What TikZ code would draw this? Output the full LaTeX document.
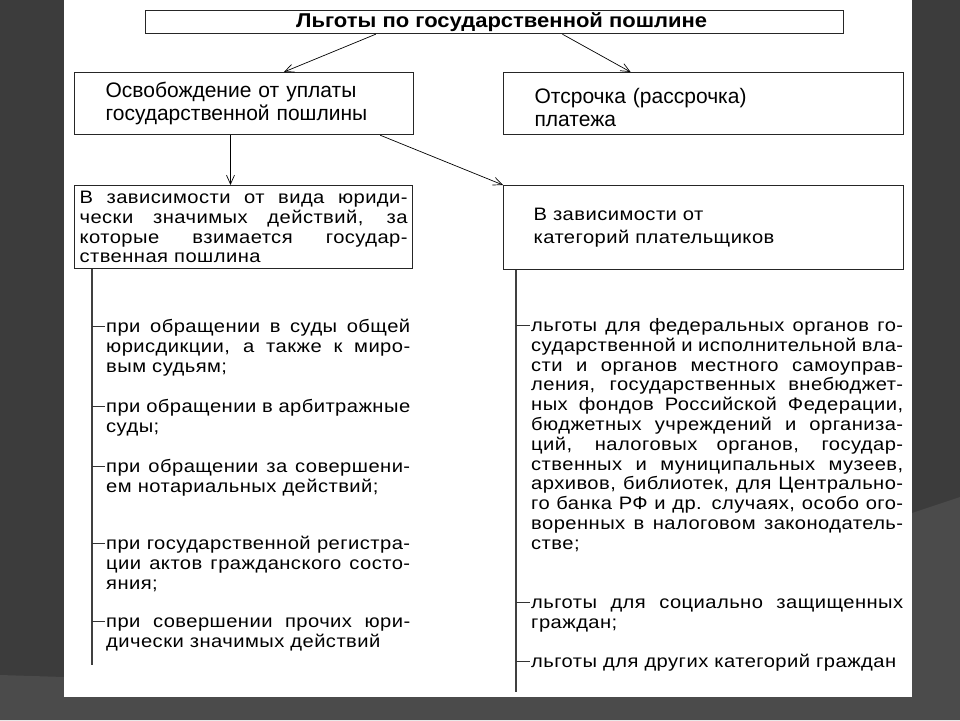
\documentclass[tikz,border=0pt]{standalone}
\usepackage{fontspec}
\setmainfont{Liberation Sans}
\newfontfamily\listfont[FakeStretch=1.12,LetterSpace=2.5]{Liberation Sans}
\newfontfamily\headfont[FakeStretch=1.1]{Liberation Sans}
\usetikzlibrary{arrows.meta,positioning,calc}
\definecolor{slidebg}{HTML}{3C3C3C}
\definecolor{slideband}{HTML}{4B4B4B}
\tikzset{
  box/.style={draw=black!85, line width=1.2pt, rectangle, anchor=north west, inner sep=0pt},
  headbox/.style={box, font=\headfont\bfseries\fontsize{20}{22}\selectfont},
  mainbox/.style={box, align=left, inner xsep=31pt, font=\fontsize{21}{23}\selectfont},
  subbox/.style={box, font=\listfont\fontsize{18}{19.7}\selectfont},
  item/.style={anchor=base west, inner sep=0pt, align=justify, font=\listfont\fontsize{18}{19.8}\selectfont},
  arr/.style={-{Straight Barb[length=9pt,width=8pt]}, line width=0.7pt},
  trunk/.style={line width=1.6pt, black!75},
  tick/.style={line width=1pt, black!80}
}

\begin{document}
\begin{tikzpicture}[x=1pt,y=-1pt]
\useasboundingbox (0,0) rectangle (960,720);
% slide background
\fill[slidebg] (0,0) rectangle (960,720);
\fill[slideband] (0,675) -- (64,677) -- (912,697) -- (912,513) -- (960,497) -- (960,720) -- (0,720) -- cycle;
\fill[white] (64,0) rectangle (912,697);

\node[headbox, minimum width=698pt, minimum height=23pt] (title) at (145,10) {\hspace{14pt}Льготы по государственной пошлине};
\node[mainbox, text width=277pt, minimum height=62pt] (free) at (74,72) {Освобождение от уплаты\\государственной пошлины};
\node[mainbox, text width=338pt, minimum height=62pt] (delay) at (503,72) {\rule{0pt}{24pt}Отсрочка (рассрочка)\\платежа};
\node[subbox, text width=328pt, inner xsep=5pt, minimum height=83pt, align=justify] (byact) at (74,185) {В зависимости от вида юриди-\linebreak чески значимых действий, за\linebreak которые взимается государ-\linebreak ственная пошлина};
\node[subbox, text width=340pt, inner xsep=30pt, minimum height=84pt, align=left, font=\listfont\fontsize{18}{23}\selectfont] (bypayer) at (503,185) {В зависимости от\\категорий плательщиков};

\draw[arr] ($(title.south west)!0.33!(title.south east)$) -- ($(free.north west)!0.617!(free.north east)$);
\draw[arr] ($(title.south west)!0.597!(title.south east)$) -- ($(delay.north west)!0.318!(delay.north east)$);
\coordinate (down) at ($(free.south west)!0.46!(free.south east)$);
\draw[arr] (down) -- (down |- byact.north);
\draw[arr] ($(free.south west)!0.9!(free.south east)$) -- (bypayer.north west);

\coordinate (lend) at (92,665);
\coordinate (rend) at (516,692);
\draw[trunk] (byact.south -| lend) -- (lend);
\draw[trunk] (bypayer.south -| rend) -- (rend);

% left column
\node[item, text width=304pt] (l1) at (106,332.5) {при обращении в суды общей\linebreak юрисдикции, а также к миро-\linebreak вым судьям;};
\node[item, text width=304pt] (l2) at (106,412.5) {при обращении в арбитражные\linebreak суды;};
\node[item, text width=304pt] (l3) at (106,472.5) {при обращении за совершени-\linebreak ем нотариальных действий;};
\node[item, text width=304pt] (l4) at (106,549.5) {при государственной регистра-\linebreak ции актов гражданского состо-\linebreak яния;};
\node[item, text width=304pt] (l5) at (106,627.5) {при совершении прочих юри-\linebreak дически значимых действий};

% right column
\node[item, text width=372pt] (r1) at (531,331.5) {льготы для федеральных органов го-\linebreak сударственной и исполнительной вла-\linebreak сти и органов местного самоуправ-\linebreak ления, государственных внебюджет-\linebreak ных фондов Российской Федерации,\linebreak бюджетных учреждений и организа-\linebreak ций, налоговых органов, государ-\linebreak ственных и муниципальных музеев,\linebreak архивов, библиотек, для Центрально-\linebreak го банка РФ и др. случаях, особо ого-\linebreak воренных в налоговом законодатель-\linebreak стве;};
\node[item, text width=372pt] (r2) at (531,608.5) {льготы для социально защищенных\linebreak граждан;};
\node[item, text width=372pt] (r3) at (531,667.5) {льготы для других категорий граждан};

\foreach \n in {l1,l2,l3,l4,l5} \draw[tick] ([yshift=6pt]\n.base west -| lend) -- ([yshift=6pt,xshift=-1pt]\n.base west);
\foreach \n in {r1,r2,r3} \draw[tick] ([yshift=6pt]\n.base west -| rend) -- ([yshift=6pt,xshift=-1pt]\n.base west);
\end{tikzpicture}
\end{document}
